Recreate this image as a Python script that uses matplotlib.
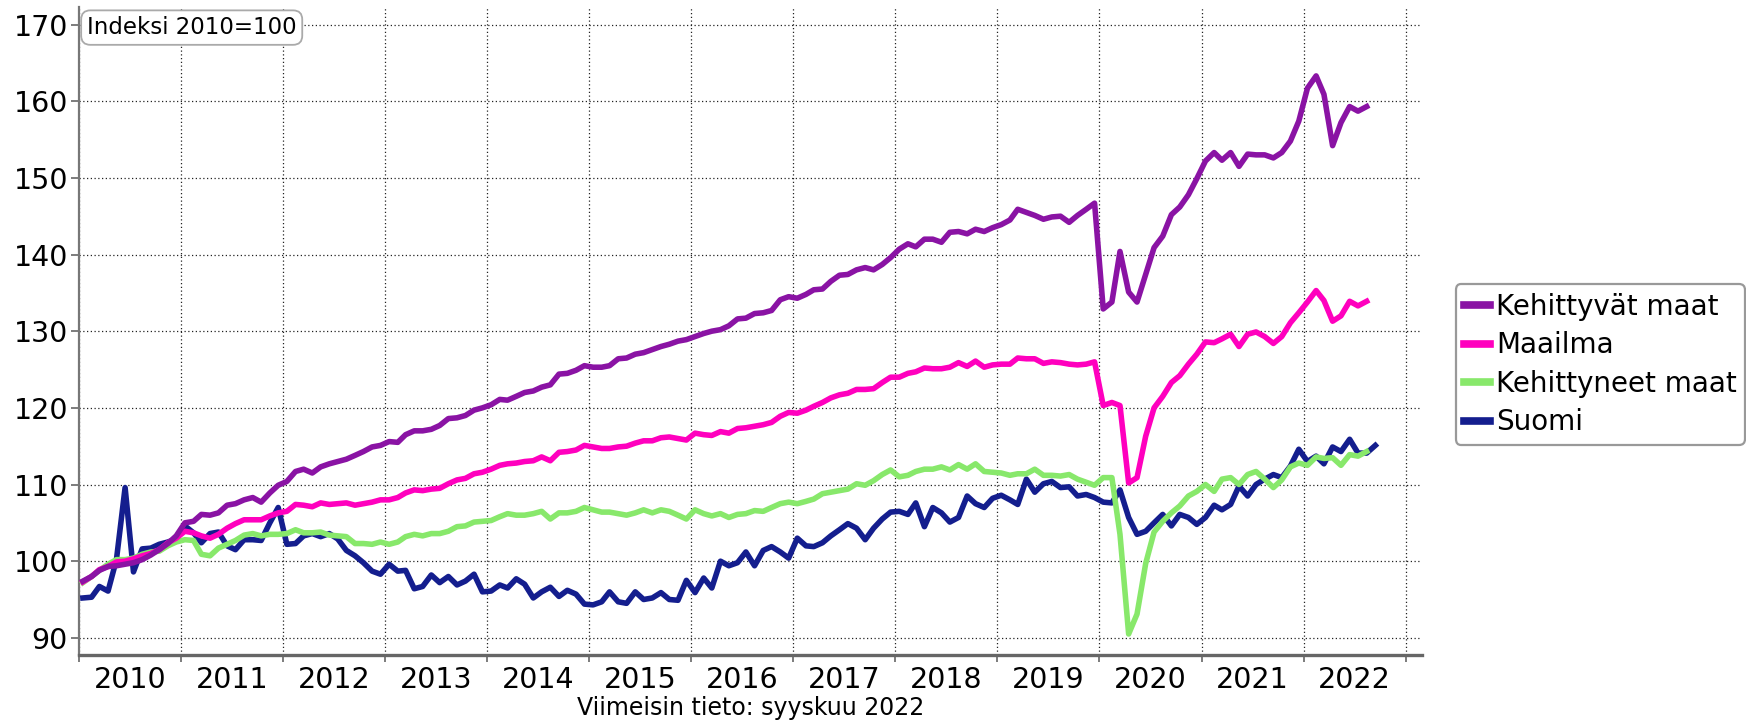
import numpy as np
import pandas as pd
import matplotlib
matplotlib.use("Agg")
import matplotlib.pyplot as plt

plt.rcParams['font.family'] = ['DejaVu Sans']

start = '2010-01-01'
years = list(range(2010, 2024))
year_labels = [str(y) for y in range(2010, 2023)]

kehittyvat = [
    97.4, 98.0, 98.8, 99.3, 99.4, 99.6, 99.8, 100.2, 100.8, 101.5, 102.3, 103.3, 105.0, 105.2, 106.1, 106.0, 106.3, 107.3, 107.5, 108.0,
    108.3, 107.7, 108.9, 109.9, 110.4, 111.7, 112.0, 111.5, 112.3, 112.7, 113.0, 113.3, 113.8, 114.3, 114.9, 115.1, 115.6, 115.5, 116.5, 117.0,
    117.0, 117.2, 117.7, 118.6, 118.7, 119.0, 119.7, 120.0, 120.4, 121.1, 121.0, 121.5, 122.0, 122.2, 122.7, 123.0, 124.4, 124.5, 124.9, 125.5,
    125.3, 125.3, 125.5, 126.4, 126.5, 127.0, 127.2, 127.6, 128.0, 128.3, 128.7, 128.9, 129.3, 129.7, 130.0, 130.2, 130.7, 131.6, 131.7, 132.3,
    132.4, 132.7, 134.1, 134.5, 134.3, 134.8, 135.4, 135.5, 136.5, 137.3, 137.4, 138.0, 138.3, 138.0, 138.7, 139.6, 140.7, 141.4, 141.0, 142.0,
    142.0, 141.6, 142.9, 143.0, 142.7, 143.3, 143.0, 143.5, 143.9, 144.5, 145.9, 145.5, 145.1, 144.6, 144.9, 145.0, 144.2, 145.1, 145.9, 146.7,
    132.9, 133.8, 140.4, 135.1, 133.8, 137.4, 140.9, 142.4, 145.2, 146.2, 147.8, 149.9, 152.2, 153.3, 152.3, 153.3, 151.5, 153.1, 153.0, 153.0,
    152.6, 153.3, 154.8, 157.4, 161.7, 163.3, 160.9, 154.2, 157.2, 159.3, 158.7, 159.3,
]

maailma = [
    97.3, 98.0, 98.9, 99.3, 99.9, 100.0, 100.3, 100.7, 101.0, 101.5, 102.4, 103.0, 103.9, 103.7, 103.3, 103.0, 103.5, 104.3, 104.9, 105.4,
    105.4, 105.4, 105.9, 106.3, 106.5, 107.4, 107.3, 107.1, 107.6, 107.4, 107.5, 107.6, 107.3, 107.5, 107.7, 108.0, 108.0, 108.3, 108.9, 109.3,
    109.2, 109.4, 109.5, 110.1, 110.6, 110.8, 111.4, 111.6, 112.0, 112.5, 112.7, 112.8, 113.0, 113.1, 113.6, 113.1, 114.2, 114.3, 114.5, 115.1,
    114.9, 114.7, 114.7, 114.9, 115.0, 115.4, 115.7, 115.7, 116.1, 116.2, 116.0, 115.8, 116.7, 116.5, 116.4, 116.9, 116.7, 117.3, 117.4, 117.6,
    117.8, 118.1, 118.9, 119.4, 119.3, 119.7, 120.2, 120.7, 121.3, 121.7, 121.9, 122.4, 122.4, 122.5, 123.3, 124.0, 124.0, 124.5, 124.7, 125.2,
    125.1, 125.1, 125.3, 125.9, 125.4, 126.1, 125.3, 125.6, 125.7, 125.7, 126.5, 126.4, 126.4, 125.8, 126.0, 125.9, 125.7, 125.6, 125.7, 126.0,
    120.3, 120.7, 120.3, 110.2, 110.9, 116.3, 120.0, 121.5, 123.3, 124.2, 125.7, 127.0, 128.6, 128.5, 129.0, 129.6, 128.0, 129.6, 129.9, 129.3,
    128.4, 129.3, 131.1, 132.4, 133.8, 135.3, 134.0, 131.3, 132.0, 133.9, 133.3, 133.9,
]

kehittyneet = [
    97.2, 98.0, 98.8, 99.6, 100.2, 100.2, 100.4, 100.9, 101.2, 101.3, 102.0, 102.5, 102.8, 102.7, 100.9, 100.7, 101.7, 102.2, 102.7, 103.4,
    103.6, 103.3, 103.5, 103.5, 103.6, 104.1, 103.7, 103.7, 103.8, 103.4, 103.3, 103.2, 102.3, 102.3, 102.2, 102.5, 102.2, 102.5, 103.2, 103.5,
    103.3, 103.6, 103.6, 103.9, 104.5, 104.6, 105.1, 105.2, 105.3, 105.8, 106.2, 106.0, 106.0, 106.2, 106.5, 105.5, 106.3, 106.3, 106.5, 107.0,
    106.7, 106.4, 106.4, 106.2, 106.0, 106.3, 106.7, 106.3, 106.7, 106.5, 106.0, 105.5, 106.7, 106.2, 105.9, 106.2, 105.7, 106.1, 106.2, 106.6,
    106.5, 107.0, 107.5, 107.7, 107.5, 107.8, 108.1, 108.8, 109.0, 109.2, 109.4, 110.1, 109.9, 110.5, 111.3, 111.9, 111.0, 111.2, 111.7, 112.0,
    112.0, 112.3, 111.9, 112.6, 112.0, 112.7, 111.7, 111.6, 111.5, 111.2, 111.4, 111.4, 112.0, 111.2, 111.2, 111.1, 111.3, 110.7, 110.3, 109.9,
    110.9, 110.9, 103.5, 90.5, 93.1, 99.7, 103.8, 105.2, 106.3, 107.2, 108.5, 109.1, 110.0, 109.1, 110.7, 110.9, 110.0, 111.3, 111.7, 110.7,
    109.6, 110.6, 112.3, 112.8, 112.5, 113.6, 113.4, 113.5, 112.5, 113.9, 113.7, 114.3,
]

suomi = [
    95.2, 95.3, 96.7, 96.1, 100.2, 109.6, 98.6, 101.6, 101.7, 102.2, 102.5, 102.9, 104.6, 103.7, 102.4, 103.6, 103.8, 102.0, 101.5, 102.8,
    102.8, 102.7, 105.0, 107.0, 102.2, 102.3, 103.3, 103.6, 103.2, 103.6, 102.9, 101.4, 100.7, 99.8, 98.7, 98.3, 99.6, 98.7, 98.8, 96.4,
    96.7, 98.2, 97.2, 98.0, 96.9, 97.4, 98.3, 96.0, 96.1, 96.9, 96.5, 97.7, 97.0, 95.2, 96.0, 96.6, 95.4, 96.2, 95.7, 94.4,
    94.3, 94.7, 96.0, 94.7, 94.5, 96.0, 95.0, 95.2, 95.9, 95.0, 94.9, 97.5, 95.9, 97.8, 96.5, 100.0, 99.4, 99.8, 101.2, 99.4,
    101.4, 101.9, 101.2, 100.4, 103.0, 102.0, 101.9, 102.4, 103.3, 104.1, 104.9, 104.3, 102.8, 104.3, 105.5, 106.4, 106.5, 106.1, 107.6, 104.5,
    107.0, 106.3, 105.1, 105.7, 108.5, 107.5, 107.0, 108.2, 108.6, 108.0, 107.4, 110.7, 109.0, 110.1, 110.4, 109.6, 109.7, 108.5, 108.7, 108.3,
    107.7, 107.6, 109.3, 105.7, 103.5, 103.9, 105.0, 106.1, 104.6, 106.1, 105.7, 104.8, 105.7, 107.3, 106.7, 107.4, 109.8, 108.5, 110.0, 110.7,
    111.3, 110.9, 112.4, 114.6, 113.0, 113.7, 112.7, 114.9, 114.3, 115.9, 114.1, 114.1, 115.1,
]

names = ['Kehittyvät maat', 'Maailma', 'Kehittyneet maat', 'Suomi']
values = [kehittyvat, maailma, kehittyneet, suomi]
colors = ['#8A13A4', '#FF00BE', '#88E86B', '#141E8E']

W, H = 1746, 722
fig = plt.figure(figsize=(W / 100, H / 100), dpi=100)
ax_l, ax_r, ax_t, ax_b = 79, 1422, 6.9, 654.7
ax = fig.add_axes([ax_l / W, 1 - ax_b / H, (ax_r - ax_l) / W, (ax_b - ax_t) / H])

lines = {}
for name, vals, col in reversed(list(zip(names, values, colors))):
    dates = pd.date_range(start, periods=len(vals), freq='MS') + pd.Timedelta(days=14)
    ln, = ax.plot(dates, vals, color=col, lw=4.0, label=name, zorder=3)
    lines[name] = ln

ax.set_xlim(pd.Timestamp('2010-01-01'), pd.Timestamp('2023-03-01'))
ax.set_ylim(87.8, 172.3)
ax.set_yticks(np.arange(90, 171, 10))

ax.set_xticks([pd.Timestamp(f'{y}-01-01') for y in years])
ax.set_xticklabels([])
ax.set_xticks([pd.Timestamp(f'{y}-07-02') for y in range(2010, 2023)], minor=True)
ax.set_xticklabels(year_labels, minor=True)
ax.tick_params(axis='x', which='minor', length=0, pad=8, labelsize=20.5)
ax.tick_params(axis='x', which='major', length=5, width=1.2, color='#666666')
ax.tick_params(axis='y', which='major', length=6, width=1.2, color='#666666', pad=2, labelsize=20.5)

ax.grid(True, which='major', linestyle=(0, (1, 2)), color='#222222', lw=0.9, zorder=1)
ax.set_axisbelow(True)

for s in ['top', 'right']:
    ax.spines[s].set_visible(False)
ax.spines['left'].set_color('#777777')
ax.spines['left'].set_linewidth(1.6)
ax.spines['bottom'].set_color('#666666')
ax.spines['bottom'].set_linewidth(2.4)

leg = ax.legend([lines[n] for n in names], names, loc='upper right',
                bbox_to_anchor=(1745 / W, 1 - 284.5 / H), bbox_transform=fig.transFigure,
                borderaxespad=0, fontsize=20, handlelength=0.95, handletextpad=0.2,
                labelspacing=0.38, borderpad=0.3, fancybox=True, framealpha=1,
                edgecolor='#999999')
leg.get_frame().set_linewidth(1.6)
for h in leg.legend_handles:
    h.set_linewidth(5.5)

fig.text(191.7 / W, 1 - 27.6 / H, 'Indeksi 2010=100', ha='center', va='center', fontsize=16.5,
         bbox=dict(boxstyle='round,pad=0.25,rounding_size=0.4', fc='white', ec='#aaaaaa', lw=1.3))

fig.text((ax_l + ax_r) / 2 / W, 1 - 708 / H, 'Viimeisin tieto: syyskuu 2022', ha='center', va='center',
         fontsize=17)

fig.savefig('out.png', dpi=100)
